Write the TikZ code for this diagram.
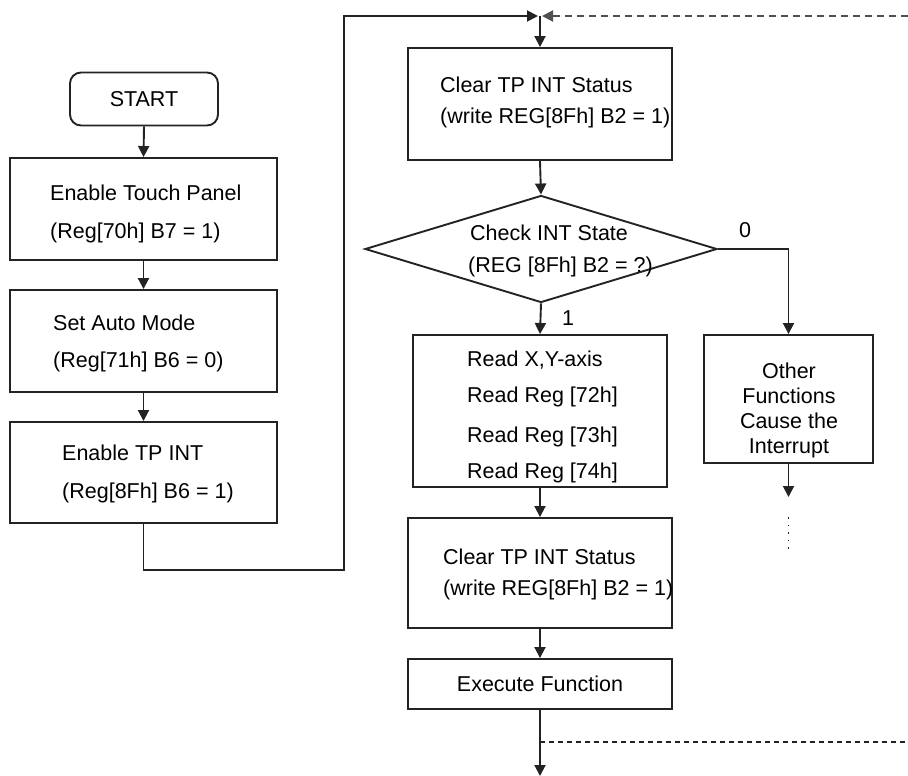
\documentclass[tikz,border=0pt]{standalone}
\usepackage{fontspec}
\setmainfont{Liberation Sans}
\usetikzlibrary{shapes.geometric,arrows.meta}
\definecolor{flowline}{RGB}{35,35,35}
\definecolor{flowdash}{RGB}{80,80,80}

\begin{document}
\begin{tikzpicture}[x=1pt,y=-1pt,font=\fontsize{21.5}{25}\selectfont,
  box/.style={draw=flowline,line width=1.9pt,rectangle,inner sep=0pt},
  txt/.style={anchor=west,inner sep=0pt},
  wire/.style={draw=flowline,line width=1.9pt},
  flow/.style={wire,-{Triangle[length=11pt,width=11pt]}}]
\path[use as bounding box] (0,0) rectangle (908,776);
% left column: set-up steps
\node[box,rounded corners=11pt,minimum width=148pt,minimum height=53pt] (start) at (144,99) {START};
\node[box,minimum width=267pt,minimum height=102pt] (tpen) at (143.5,209) {};
\node[txt] (tpenA) at (50,193) {Enable Touch Panel};
\node[txt] (tpenB) at (50,233) {(Reg[70h] B7 = 1)};
\node[box,minimum width=267pt,minimum height=102pt] (auto) at (143.5,341) {};
\node[txt] (autoA) at (53,323) {Set Auto Mode};
\node[txt] (autoB) at (53,362) {(Reg[71h] B6 = 0)};
\node[box,minimum width=267pt,minimum height=101pt] (tpint) at (143.5,472.5) {};
\node[txt] (tpintA) at (62,453) {Enable TP INT};
\node[txt] (tpintB) at (62,493) {(Reg[8Fh] B6 = 1)};
% middle column: interrupt loop
\node[box,minimum width=264pt,minimum height=112pt] (clr1) at (540,104) {};
\node[txt] (clr1A) at (440,85) {Clear TP INT Status};
\node[txt] (clr1B) at (440,118) {(write REG[8Fh] B2 = 1)};
\node[box,shape=diamond,minimum width=352pt,minimum height=107pt] (chk) at (541,249) {};
\node[txt] (chkA) at (470,233) {Check INT State};
\node[txt] (chkB) at (468,267) {(REG [8Fh] B2 = ?)};
\node[box,minimum width=254pt,minimum height=152pt] (rd) at (540,411) {};
\node[txt] (rdA) at (467,360) {Read X,Y-axis};
\node[txt] (rdB) at (467,397) {Read Reg [72h]};
\node[txt] (rdC) at (467,437) {Read Reg [73h]};
\node[txt] (rdD) at (467,473) {Read Reg [74h]};
\node[box,minimum width=264pt,minimum height=110pt] (clr2) at (540,573) {};
\node[txt] (clr2A) at (443,557) {Clear TP INT Status};
\node[txt] (clr2B) at (443,590) {(write REG[8Fh] B2 = 1)};
\node[box,minimum width=264pt,minimum height=50pt] (exe) at (540,684) {Execute Function};
% right column: other interrupt sources
\node[box,minimum width=169pt,minimum height=128pt] (oth) at (788.5,399) {};
\node[align=center,inner sep=0pt] (othT) at (789,410)
  {Other\\Functions\\Cause the\\Interrupt};
\node (zero) at (745,230) {0};
\node (one) at (568,318) {1};
% connectors
\coordinate (lowleft) at (143.5,570);
\coordinate (lowright) at (344,570);
\coordinate (topleft) at (344,16);
\coordinate (merge) at (540,16);
\coordinate (dashend) at (908,16);
\coordinate (exit) at (540,776);
\coordinate (loopA) at (540,742);
\coordinate (loopB) at (908,742);
\coordinate (othnext) at (788.5,497);
\coordinate (dotA) at (788.5,517);
\coordinate (dotB) at (788.5,553);
\draw[flow] (start.south) -- (tpen.north);
\draw[flow] (tpen.south) -- (auto.north);
\draw[flow] (auto.south) -- (tpint.north);
\draw[flow,shorten >=2pt] (tpint.south) -- (lowleft) -- (lowright) -- (topleft) -- (merge);
\draw[flow,draw=flowdash,dash pattern=on 7pt off 5pt,shorten >=2pt] (dashend) -- (merge);
\draw[flow] (merge) -- (clr1.north);
\draw[flow] (clr1.south) -- (chk.north);
\draw[flow] (chk.south) -- (rd.north);
\draw[flow] (chk.east) -- (chk.east -| oth.north) -- (oth.north);
\draw[flow] (rd.south) -- (clr2.north);
\draw[flow] (clr2.south) -- (exe.north);
\draw[flow] (exe.south) -- (exit);
\draw[wire,dash pattern=on 5pt off 4pt] (loopA) -- (loopB);
\draw[flow] (oth.south) -- (othnext);
\draw[wire,line width=1.5pt,dash pattern=on 1.5pt off 6pt] (dotA) -- (dotB);
\end{tikzpicture}
\end{document}
